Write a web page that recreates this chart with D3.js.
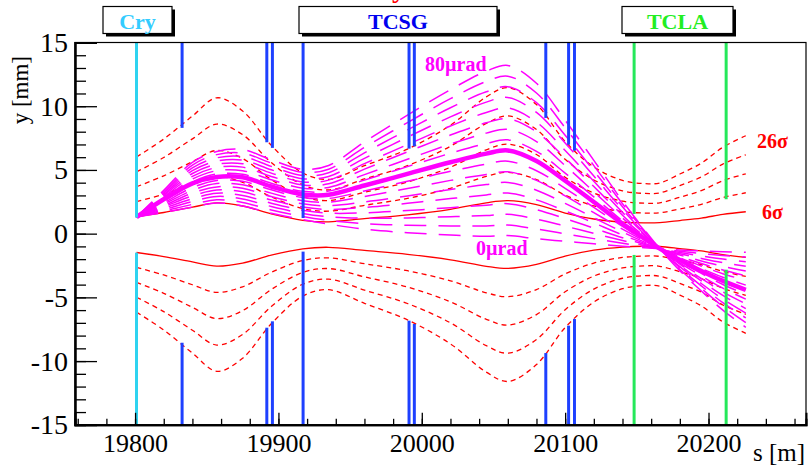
<!DOCTYPE html>
<html><head><meta charset="utf-8">
<script src="https://cdn.jsdelivr.net/npm/d3@7"></script>
<style>body{margin:0;background:#fff} svg{display:block} text{font-family:"Liberation Serif","Times New Roman",serif}</style>
</head><body><svg id="c" width="809" height="465"></svg>
<script>
// sample positions along the beam line (m)
const sPos = [19801,19820,19840,19857,19875,19895,19917,19935,19960,19990,20020,20045,20060,20080,20100,20120,20140,20155,20166,20180,20195,20210,20226];

// beam envelopes (mm)
const env6Up  = [1.34,1.66,2.08,2.41,2.17,1.55,1.05,0.93,1.18,1.48,1.91,2.42,2.59,2.28,1.62,1.15,0.91,0.85,0.87,1.03,1.22,1.51,1.72];
const env6Lo  = [-1.48,-1.80,-2.22,-2.55,-2.31,-1.69,-1.19,-1.07,-1.32,-1.62,-2.05,-2.56,-2.73,-2.42,-1.76,-1.29,-1.05,-0.99,-1.01,-1.17,-1.36,-1.65,-1.86];
const env11Up = [2.51,3.10,3.87,4.47,4.03,2.89,1.97,1.76,2.22,2.77,3.56,4.50,4.81,4.25,3.02,2.17,1.73,1.62,1.64,1.94,2.30,2.83,3.21];
const env11Lo = [-2.65,-3.24,-4.01,-4.61,-4.17,-3.03,-2.11,-1.90,-2.36,-2.91,-3.70,-4.64,-4.95,-4.39,-3.16,-2.31,-1.87,-1.76,-1.78,-2.08,-2.44,-2.97,-3.35];
const env16Up = [3.68,4.54,5.65,6.53,5.90,4.24,2.90,2.60,3.25,4.05,5.21,6.58,7.03,6.21,4.42,3.19,2.55,2.39,2.42,2.85,3.38,4.15,4.70];
const env16Lo = [-3.82,-4.68,-5.79,-6.67,-6.04,-4.38,-3.04,-2.74,-3.39,-4.19,-5.35,-6.72,-7.17,-6.35,-4.56,-3.33,-2.69,-2.53,-2.56,-2.99,-3.52,-4.29,-4.84];
const env21Up = [4.85,5.98,7.44,8.60,7.77,5.58,3.83,3.43,4.29,5.34,6.86,8.65,9.24,8.17,5.83,4.21,3.36,3.16,3.20,3.77,4.45,5.46,6.19];
const env21Lo = [-4.99,-6.12,-7.58,-8.74,-7.91,-5.72,-3.97,-3.57,-4.43,-5.48,-7.00,-8.79,-9.38,-8.31,-5.97,-4.35,-3.50,-3.30,-3.34,-3.91,-4.59,-5.60,-6.33];
const env26Up = [6.02,7.42,9.23,10.66,9.63,6.93,4.76,4.26,5.33,6.63,8.51,10.73,11.46,10.13,7.23,5.23,4.18,3.93,3.98,4.68,5.53,6.78,7.68];
const env26Lo = [-6.16,-7.56,-9.37,-10.80,-9.77,-7.07,-4.90,-4.40,-5.47,-6.77,-8.65,-10.87,-11.60,-10.27,-7.37,-5.37,-4.32,-4.07,-4.12,-4.82,-5.67,-6.92,-7.82];

// deflected trajectories (mm), one per kick angle (0 to 80 µrad)
const traj0  = [1.30,1.66,2.08,2.41,2.17,1.60,1.10,0.75,0.35,0.08,-0.10,-0.20,-0.15,-0.40,-0.60,-0.80,-0.98,-1.10,-1.18,-1.28,-1.36,-1.42,-1.46];
const traj5  = [1.30,1.77,2.30,2.66,2.45,1.86,1.35,1.04,0.78,0.66,0.61,0.61,0.68,0.36,-0.01,-0.39,-0.76,-1.01,-1.18,-1.38,-1.56,-1.71,-1.83];
const traj10 = [1.30,1.88,2.52,2.92,2.72,2.13,1.59,1.33,1.21,1.23,1.33,1.42,1.52,1.13,0.59,0.02,-0.54,-0.92,-1.18,-1.48,-1.75,-1.99,-2.20];
const traj15 = [1.30,1.99,2.74,3.17,3.00,2.39,1.84,1.61,1.63,1.81,2.04,2.23,2.35,1.89,1.18,0.43,-0.32,-0.83,-1.18,-1.58,-1.95,-2.28,-2.56];
const traj20 = [1.30,2.10,2.96,3.42,3.28,2.65,2.09,1.90,2.06,2.38,2.75,3.04,3.19,2.65,1.78,0.84,-0.10,-0.74,-1.18,-1.68,-2.14,-2.56,-2.93];
const traj25 = [1.30,2.20,3.18,3.67,3.56,2.91,2.34,2.19,2.49,2.96,3.46,3.85,4.02,3.41,2.37,1.25,0.13,-0.65,-1.18,-1.79,-2.34,-2.85,-3.30];
const traj30 = [1.30,2.31,3.40,3.93,3.83,3.18,2.58,2.48,2.92,3.54,4.18,4.65,4.85,4.18,2.96,1.65,0.35,-0.55,-1.18,-1.89,-2.54,-3.14,-3.67];
const traj35 = [1.30,2.42,3.62,4.18,4.11,3.44,2.83,2.76,3.35,4.11,4.89,5.46,5.69,4.94,3.56,2.06,0.57,-0.46,-1.18,-1.99,-2.73,-3.42,-4.04];
const traj40 = [1.30,2.53,3.84,4.43,4.39,3.70,3.08,3.05,3.77,4.69,5.60,6.27,6.52,5.70,4.15,2.47,0.79,-0.37,-1.18,-2.09,-2.93,-3.71,-4.40];
const traj45 = [1.30,2.64,4.06,4.68,4.66,3.96,3.32,3.34,4.20,5.26,6.31,7.08,7.36,6.46,4.75,2.88,1.01,-0.28,-1.18,-2.19,-3.12,-3.99,-4.77];
const traj50 = [1.30,2.75,4.28,4.94,4.94,4.23,3.57,3.63,4.63,5.84,7.03,7.89,8.19,7.23,5.34,3.29,1.23,-0.19,-1.18,-2.29,-3.32,-4.28,-5.14];
const traj55 = [1.30,2.86,4.50,5.19,5.22,4.49,3.82,3.91,5.06,6.42,7.74,8.70,9.02,7.99,5.93,3.70,1.45,-0.10,-1.18,-2.39,-3.52,-4.57,-5.51];
const traj60 = [1.30,2.97,4.72,5.44,5.49,4.75,4.06,4.20,5.49,6.99,8.45,9.51,9.86,8.75,6.53,4.11,1.67,-0.01,-1.18,-2.49,-3.71,-4.85,-5.88];
const traj65 = [1.30,3.07,4.94,5.69,5.77,5.01,4.31,4.49,5.91,7.57,9.16,10.32,10.69,9.51,7.12,4.52,1.89,0.08,-1.18,-2.59,-3.91,-5.14,-6.24];
const traj70 = [1.30,3.18,5.16,5.95,6.05,5.28,4.56,4.78,6.34,8.14,9.88,11.13,11.53,10.28,7.72,4.93,2.11,0.17,-1.18,-2.69,-4.10,-5.42,-6.61];
const traj75 = [1.30,3.29,5.38,6.20,6.32,5.54,4.81,5.06,6.77,8.72,10.59,11.94,12.36,11.04,8.31,5.34,2.34,0.26,-1.18,-2.80,-4.30,-5.71,-6.98];
const traj80 = [1.30,3.40,5.60,6.45,6.60,5.80,5.05,5.35,7.20,9.30,11.30,12.75,13.20,11.80,8.90,5.75,2.55,0.35,-1.18,-2.90,-4.50,-6.00,-7.35];
// highlighted trajectory
const trajBold = [1.30,2.70,3.95,4.45,4.42,3.70,3.08,3.05,3.78,4.69,5.60,6.28,6.53,5.70,4.15,2.48,0.79,-0.38,-1.18,-2.07,-2.93,-3.71,-4.41];

// collimators
const collS     = [19801,19832.8,19891.9,19895.8,19917.2,19991.1,19994.8,20086.5,20102.4,20106.5,20148.1,20212.3];
const collType  = ["Cry","TCSG","TCSG","TCSG","TCSG","TCSG","TCSG","TCSG","TCSG","TCSG","TCLA","TCLA"];
const collUpper = [1.26,8.3,7.17,6.73,1.23,6.67,6.85,9.08,6.98,6.51,1.54,2.7];
const collLower = [-1.49,-8.56,-7.38,-6.88,-1.41,-6.83,-7.09,-9.37,-7.22,-6.7,-1.67,-2.83];

const xMajor = [19800,19900,20000,20100,20200];
const yMajor = [-15,-10,-5,0,5,10,15];

const svg = d3.select("#c");
const x = d3.scaleLinear().domain([19758.1, 20268]).range([75, 806]);
const y = d3.scaleLinear().domain([-15, 15]).range([424.8, 42.5]);

const line = d3.line().x(d => x(d[0])).y(d => y(d[1])).curve(d3.curveCatmullRom.alpha(0.5));
const pts = arr => sPos.map((s, i) => [s, arr[i]]);

const g = svg.append("g");
[[env6Up,false],[env6Lo,false],[env11Up,true],[env11Lo,true],[env16Up,true],[env16Lo,true],[env21Up,true],[env21Lo,true],[env26Up,true],[env26Lo,true]]
.forEach(([a, dashed]) => {
  g.append("path").attr("d", line(pts(a))).attr("fill","none").attr("stroke","#ff0000")
   .attr("stroke-width", 1.3).attr("stroke-dasharray", dashed ? "5,4" : null);
});

[traj0,traj5,traj10,traj15,traj20,traj25,traj30,traj35,traj40,traj45,traj50,traj55,traj60,traj65,traj70,traj75,traj80]
.forEach(a => {
  g.append("path").attr("d", line(pts(a))).attr("fill","none").attr("stroke","#ff00ff")
   .attr("stroke-width", 1.5).attr("stroke-dasharray","22,12");
});
g.append("path").attr("d", line(pts(trajBold))).attr("fill","none").attr("stroke","#ff00ff").attr("stroke-width", 4.5);

const colColor = {Cry:"#2fd3f0", TCSG:"#1e40ff", TCLA:"#25e85a"};
collS.forEach((s, i) => {
  g.append("line").attr("x1", x(s)).attr("x2", x(s)).attr("y1", y(15)).attr("y2", y(collUpper[i]))
   .attr("stroke", colColor[collType[i]]).attr("stroke-width", 3);
  g.append("line").attr("x1", x(s)).attr("x2", x(s)).attr("y1", y(-15)).attr("y2", y(collLower[i]))
   .attr("stroke", colColor[collType[i]]).attr("stroke-width", 3);
});

const xAxisMinor = d3.axisBottom(x).tickValues(d3.range(19760, 20261, 20)).tickSize(-6).tickFormat("");
const xAxisMajor = d3.axisBottom(x).tickValues(xMajor).tickSize(-12).tickPadding(9).tickFormat(d3.format("d"));
const yAxisMinor = d3.axisLeft(y).tickValues(d3.range(-15, 16, 1)).tickSize(-11).tickFormat("");
const yAxisMajor = d3.axisLeft(y).tickValues(yMajor).tickSize(-22).tickPadding(7).tickFormat(d => d < 0 ? "-" + Math.abs(d) : d);
function styleAx(sel, fs){ sel.selectAll("path.domain").attr("stroke","#000").attr("stroke-width",2);
  sel.selectAll(".tick line").attr("stroke","#000").attr("stroke-width",1.3);
  sel.selectAll("text").attr("font-family","Liberation Serif").attr("font-size",fs).attr("fill","#000"); }
svg.append("g").attr("transform","translate(0,424.8)").call(xAxisMinor).call(s=>styleAx(s,26));
svg.append("g").attr("transform","translate(0,424.8)").call(xAxisMajor).call(s=>styleAx(s,26));
svg.append("g").attr("transform","translate(75,0)").call(yAxisMinor).call(s=>styleAx(s,28));
svg.append("g").attr("transform","translate(75,0)").call(yAxisMajor).call(s=>styleAx(s,28));
svg.append("rect").attr("x",75).attr("y",42.5).attr("width",731).attr("height",382.3).attr("fill","none").attr("stroke","#000").attr("stroke-width",1.2);

svg.append("text").attr("x",805).attr("y",461).attr("text-anchor","end").attr("font-size",25).text("s [m]");
svg.append("text").attr("transform","translate(28,56) rotate(-90)").attr("text-anchor","end").attr("font-size",23).text("y [mm]");

svg.append("text").attr("x",425).attr("y",70.5).attr("font-size",20).attr("font-weight","bold").attr("fill","#ff00ff").text("80µrad");
svg.append("text").attr("x",476).attr("y",255).attr("font-size",20).attr("font-weight","bold").attr("fill","#ff00ff").text("0µrad");
svg.append("text").attr("x",757).attr("y",148).attr("font-size",20).attr("font-weight","bold").attr("fill","#ff0000").text("26σ");
svg.append("text").attr("x",762).attr("y",219).attr("font-size",20).attr("font-weight","bold").attr("fill","#ff0000").text("6σ");

const boxes = [{t:"Cry",x0:103,x1:172,c:"#33ccff"},{t:"TCSG",x0:299,x1:497,c:"#0000ee"},{t:"TCLA",x0:622,x1:733,c:"#22ee22"}];
boxes.forEach(b => {
  svg.append("rect").attr("x",b.x0+3).attr("y",9.5).attr("width",b.x1-b.x0).attr("height",27).attr("fill","#000");
  svg.append("rect").attr("x",b.x0).attr("y",6.5).attr("width",b.x1-b.x0).attr("height",27).attr("fill","#fff").attr("stroke","#000").attr("stroke-width",1.2);
  svg.append("text").attr("x",(b.x0+b.x1)/2).attr("y",29).attr("text-anchor","middle").attr("font-size",22).attr("font-weight","bold").attr("fill",b.c).text(b.t);
});
svg.append("text").attr("x",399).attr("y",-3).attr("text-anchor","middle").attr("font-size",28).attr("font-weight","bold").attr("fill","#ff0000").text("y");
</script></body></html>
